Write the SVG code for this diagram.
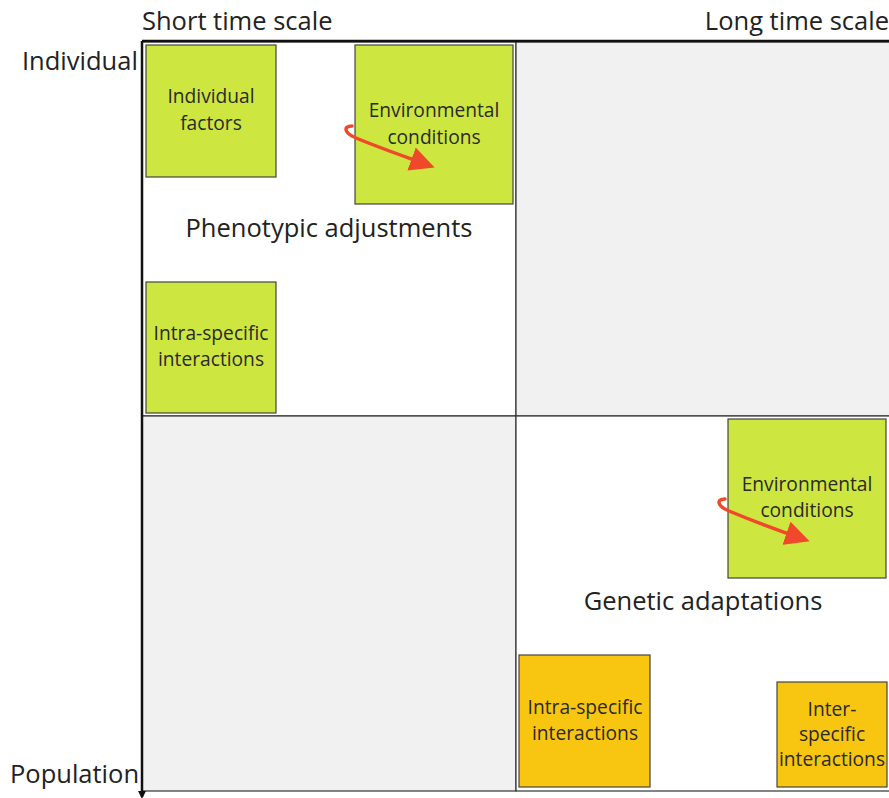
<svg xmlns="http://www.w3.org/2000/svg" width="889" height="798" viewBox="0 0 889 798">
<defs>
<style>
.q{stroke:#333;stroke-width:1.2}
.g{fill:#cee640;stroke:#444;stroke-width:1.2}
.o{fill:#f8c511;stroke:#444;stroke-width:1.2}
.t{font-family:"Open Sans","Noto Sans",sans-serif;font-size:19.2px;fill:#2a2a2a;text-anchor:middle}
.l{font-family:"Open Sans","Noto Sans",sans-serif;font-size:25.5px;fill:#222}
.r{fill:none;stroke:#f0482a;stroke-width:3.5;stroke-linecap:round}
</style>
<marker id="ah" markerWidth="7" markerHeight="7" refX="5" refY="3.5" orient="auto" markerUnits="strokeWidth">
<path d="M0,0 L7,3.5 L0,7 z" fill="#f0482a"/>
</marker>
<marker id="ax" markerWidth="8" markerHeight="8" refX="6" refY="4" orient="auto" markerUnits="userSpaceOnUse">
<path d="M0,0 L8,4 L0,8 z" fill="#111"/>
</marker>
</defs>
<rect width="889" height="798" fill="#fff"/>
<g id="quadrants">
<rect class="q" x="142" y="42" width="374" height="374" fill="#fff"/>
<rect class="q" x="516" y="42" width="374" height="374" fill="#f1f1f1"/>
<rect class="q" x="142" y="416" width="374" height="375" fill="#f1f1f1"/>
<rect class="q" x="516" y="416" width="374" height="375" fill="#fff"/>
</g>
<g id="axes">
<line x1="142" y1="41" x2="892" y2="41" stroke="#111" stroke-width="2.5"/>
<line x1="142" y1="41" x2="142" y2="797" stroke="#111" stroke-width="2.5" marker-end="url(#ax)"/>
</g>
<g id="labels">
<text class="l" x="142" y="30">Short time scale</text>
<text class="l" x="889" y="30" text-anchor="end">Long time scale</text>
<text class="l" x="22" y="70">Individual</text>
<text class="l" x="10" y="783">Population</text>
<text class="l" x="329" y="237" text-anchor="middle">Phenotypic adjustments</text>
<text class="l" x="703" y="610" text-anchor="middle">Genetic adaptations</text>
</g>
<g id="n1"><rect class="g" x="146" y="45" width="130" height="132"/><text class="t" x="211" y="103">Individual</text><text class="t" x="211" y="130">factors</text></g>
<g id="n2"><rect class="g" x="355" y="45" width="158" height="159"/><text class="t" x="434" y="117">Environmental</text><text class="t" x="434" y="144">conditions</text></g>
<g id="n3"><rect class="g" x="146" y="282" width="130" height="131"/><text class="t" x="211" y="340">Intra-specific</text><text class="t" x="211" y="366">interactions</text></g>
<g id="n4"><rect class="g" x="728" y="419" width="158" height="159"/><text class="t" x="807" y="491">Environmental</text><text class="t" x="807" y="517">conditions</text></g>
<g id="n5"><rect class="o" x="519" y="655" width="131" height="132"/><text class="t" x="585" y="714">Intra-specific</text><text class="t" x="585" y="740">interactions</text></g>
<g id="n6"><rect class="o" x="777" y="682" width="110" height="105"/><text class="t" x="832" y="716">Inter-</text><text class="t" x="832" y="741">specific</text><text class="t" x="832" y="766">interactions</text></g>
<g id="connectors">
<path class="r" d="M352,126 C343,126 344,133 356,138 C380,148 406,157 428,165" marker-end="url(#ah)"/>
<path class="r" d="M725,499 C716,499 717,506 729,511 C753,521 780,531 803,539" marker-end="url(#ah)"/>
</g>
</svg>
